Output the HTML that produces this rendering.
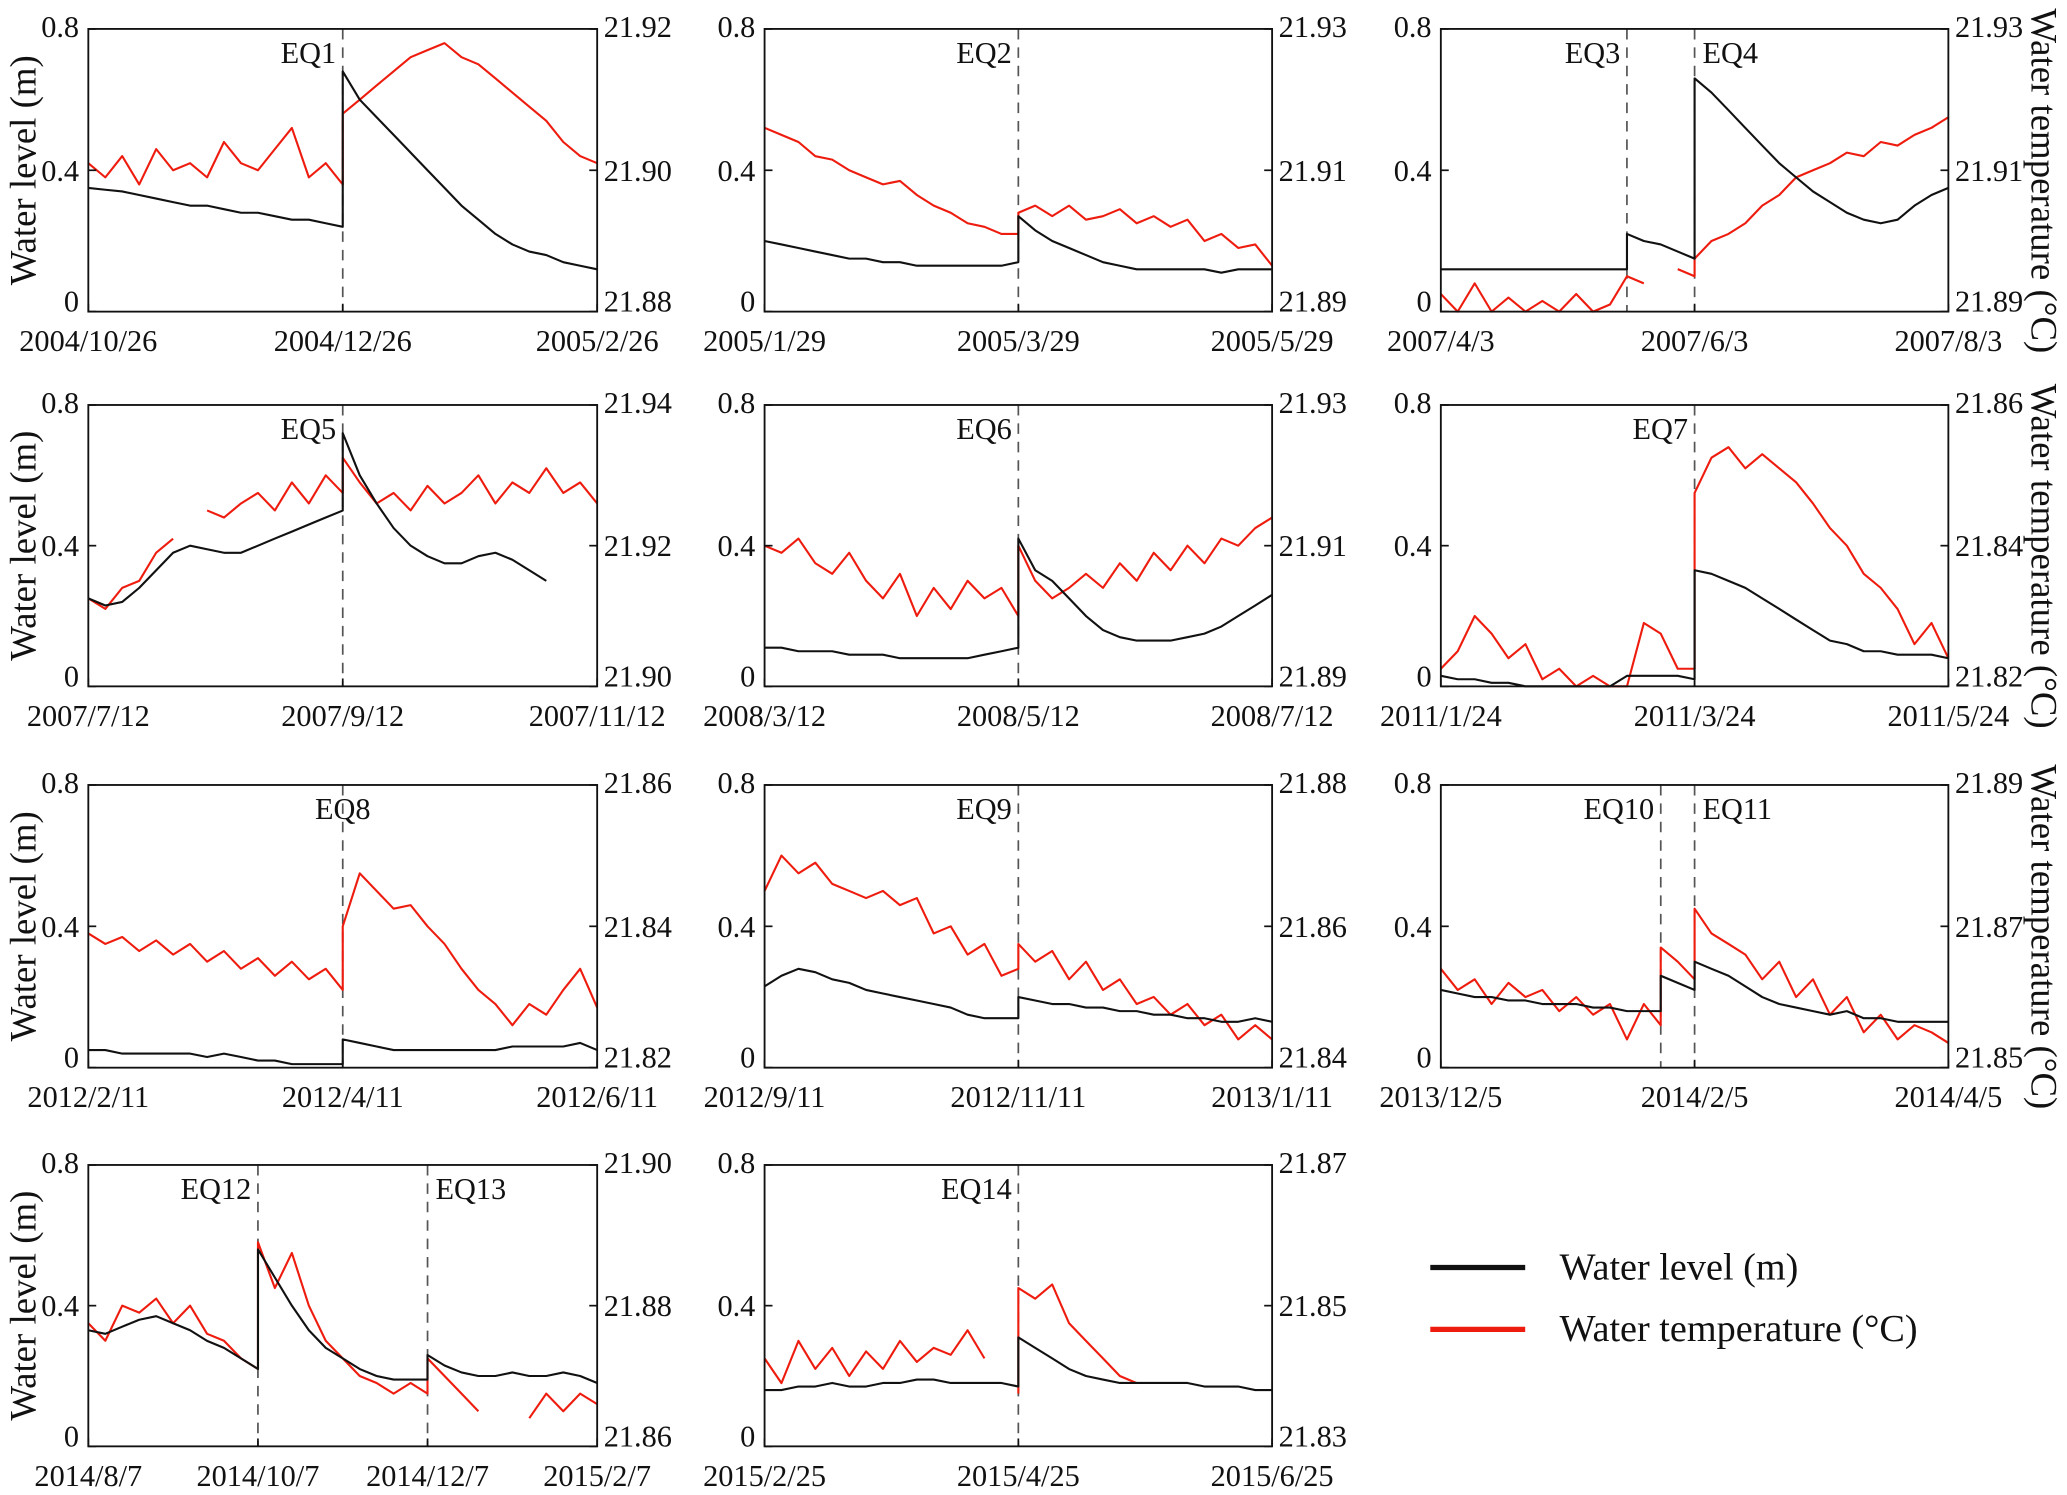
<!DOCTYPE html>
<html><head><meta charset="utf-8"><style>
html,body{margin:0;padding:0;background:#fff;}
svg{display:block;font-family:"Liberation Serif","DejaVu Serif",serif;}
</style></head><body>
<svg id="fig" width="2067" height="1495" viewBox="0 0 1568 1137" preserveAspectRatio="none" xmlns="http://www.w3.org/2000/svg"></svg>
<script>
// ---- data (x evenly spaced, 31 samples over 120 days; [a,b] = step at sample) ----
const xLabels = [["2004/10/26","2004/12/26","2005/2/26"],["2005/1/29","2005/3/29","2005/5/29"],["2007/4/3","2007/6/3","2007/8/3"],
["2007/7/12","2007/9/12","2007/11/12"],["2008/3/12","2008/5/12","2008/7/12"],["2011/1/24","2011/3/24","2011/5/24"],
["2012/2/11","2012/4/11","2012/6/11"],["2012/9/11","2012/11/11","2013/1/11"],["2013/12/5","2014/2/5","2014/4/5"],
["2014/8/7","2014/10/7","2014/12/7","2015/2/7"],["2015/2/25","2015/4/25","2015/6/25"]];
const tempRanges = [[21.88,21.92],[21.89,21.93],[21.89,21.93],[21.90,21.94],[21.89,21.93],[21.82,21.86],[21.82,21.86],[21.84,21.88],[21.85,21.89],[21.86,21.90],[21.83,21.87]];
const tempTicks = [["21.88","21.90","21.92"],["21.89","21.91","21.93"],["21.89","21.91","21.93"],["21.90","21.92","21.94"],["21.89","21.91","21.93"],["21.82","21.84","21.86"],["21.82","21.84","21.86"],["21.84","21.86","21.88"],["21.85","21.87","21.89"],["21.86","21.88","21.90"],["21.83","21.85","21.87"]];
const levelTicks = ["0","0.4","0.8"];
const eventNames = [["EQ1"],["EQ2"],["EQ3","EQ4"],["EQ5"],["EQ6"],["EQ7"],["EQ8"],["EQ9"],["EQ10","EQ11"],["EQ12","EQ13"],["EQ14"]];
const eventIdx = [[15],[15],[11,15],[15],[15],[15],[15],[15],[13,15],[10,20],[15]];
const level = [
[0.35,0.345,0.34,0.33,0.32,0.31,0.30,0.30,0.29,0.28,0.28,0.27,0.26,0.26,0.25,[0.24,0.68],0.60,0.55,0.50,0.45,0.40,0.35,0.30,0.26,0.22,0.19,0.17,0.16,0.14,0.13,0.12],
[0.20,0.19,0.18,0.17,0.16,0.15,0.15,0.14,0.14,0.13,0.13,0.13,0.13,0.13,0.13,[0.14,0.27],0.23,0.20,0.18,0.16,0.14,0.13,0.12,0.12,0.12,0.12,0.12,0.11,0.12,0.12,0.12],
[0.12,0.12,0.12,0.12,0.12,0.12,0.12,0.12,0.12,0.12,0.12,[0.12,0.22],0.20,0.19,0.17,[0.15,0.66],0.62,0.57,0.52,0.47,0.42,0.38,0.34,0.31,0.28,0.26,0.25,0.26,0.30,0.33,0.35],
[0.25,0.23,0.24,0.28,0.33,0.38,0.40,0.39,0.38,0.38,0.40,0.42,0.44,0.46,0.48,[0.50,0.72],0.60,0.52,0.45,0.40,0.37,0.35,0.35,0.37,0.38,0.36,0.33,0.30,null,null,null],
[0.11,0.11,0.10,0.10,0.10,0.09,0.09,0.09,0.08,0.08,0.08,0.08,0.08,0.09,0.10,[0.11,0.42],0.33,0.30,0.25,0.20,0.16,0.14,0.13,0.13,0.13,0.14,0.15,0.17,0.20,0.23,0.26],
[0.03,0.02,0.02,0.01,0.01,0.0,0.0,0.0,0.0,0.0,0.0,0.03,0.03,0.03,0.03,[0.02,0.33],0.32,0.30,0.28,0.25,0.22,0.19,0.16,0.13,0.12,0.10,0.10,0.09,0.09,0.09,0.08],
[0.05,0.05,0.04,0.04,0.04,0.04,0.04,0.03,0.04,0.03,0.02,0.02,0.01,0.01,0.01,[0.01,0.08],0.07,0.06,0.05,0.05,0.05,0.05,0.05,0.05,0.05,0.06,0.06,0.06,0.06,0.07,0.05],
[0.23,0.26,0.28,0.27,0.25,0.24,0.22,0.21,0.20,0.19,0.18,0.17,0.15,0.14,0.14,[0.14,0.20],0.19,0.18,0.18,0.17,0.17,0.16,0.16,0.15,0.15,0.14,0.14,0.13,0.13,0.14,0.13],
[0.22,0.21,0.20,0.20,0.19,0.19,0.18,0.18,0.18,0.17,0.17,0.16,0.16,[0.16,0.26],0.24,[0.22,0.30],0.28,0.26,0.23,0.20,0.18,0.17,0.16,0.15,0.16,0.14,0.14,0.13,0.13,0.13,0.13],
[0.33,0.32,0.34,0.36,0.37,0.35,0.33,0.30,0.28,0.25,[0.22,0.56],0.48,0.40,0.33,0.28,0.25,0.22,0.20,0.19,0.19,[0.19,0.26],0.23,0.21,0.20,0.20,0.21,0.20,0.20,0.21,0.20,0.18],
[0.16,0.16,0.17,0.17,0.18,0.17,0.17,0.18,0.18,0.19,0.19,0.18,0.18,0.18,0.18,[0.17,0.31],0.28,0.25,0.22,0.20,0.19,0.18,0.18,0.18,0.18,0.18,0.17,0.17,0.17,0.16,0.16]
];
const temp = [
[21.901,21.899,21.902,21.898,21.903,21.900,21.901,21.899,21.904,21.901,21.900,21.903,21.906,21.899,21.901,[21.898,21.908],21.910,21.912,21.914,21.916,21.917,21.918,21.916,21.915,21.913,21.911,21.909,21.907,21.904,21.902,21.901],
[21.916,21.915,21.914,21.912,21.9115,21.910,21.909,21.908,21.9085,21.9065,21.905,21.904,21.9025,21.902,21.901,[21.901,21.904],21.905,21.9035,21.905,21.903,21.9035,21.9045,21.9025,21.9035,21.902,21.903,21.900,21.901,21.899,21.8995,21.8965],
[21.8925,21.89,21.894,21.89,21.892,21.889,21.8915,21.89,21.8925,21.89,21.891,21.895,21.894,null,21.896,[21.895,21.8975],21.90,21.901,21.9025,21.905,21.9065,21.909,21.91,21.911,21.9125,21.912,21.914,21.9135,21.915,21.916,21.9175],
[21.9125,21.911,21.914,21.915,21.919,21.921,null,21.925,21.924,21.926,21.9275,21.925,21.929,21.926,21.930,[21.9275,21.9325],21.929,21.926,21.9275,21.925,21.9285,21.926,21.9275,21.930,21.926,21.929,21.9275,21.931,21.9275,21.929,21.926],
[21.910,21.909,21.911,21.9075,21.906,21.909,21.905,21.9025,21.906,21.900,21.904,21.901,21.905,21.9025,21.904,[21.900,21.910],21.905,21.9025,21.904,21.906,21.904,21.9075,21.905,21.909,21.9065,21.910,21.9075,21.911,21.910,21.9125,21.914],
[21.8225,21.825,21.830,21.8275,21.824,21.826,21.821,21.8225,21.82,21.8215,21.82,21.82,21.829,21.8275,21.8225,[21.8225,21.8475],21.8525,21.854,21.851,21.853,21.851,21.849,21.846,21.8425,21.840,21.836,21.834,21.831,21.826,21.829,21.824],
[21.839,21.8375,21.8385,21.8365,21.838,21.836,21.8375,21.835,21.8365,21.834,21.8355,21.833,21.835,21.8325,21.834,[21.831,21.840],21.8475,21.845,21.8425,21.843,21.840,21.8375,21.834,21.831,21.829,21.826,21.829,21.8275,21.831,21.834,21.8285],
[21.865,21.870,21.8675,21.869,21.866,21.865,21.864,21.865,21.863,21.864,21.859,21.860,21.856,21.8575,21.853,[21.854,21.8575],21.855,21.8565,21.8525,21.855,21.851,21.8525,21.849,21.850,21.8475,21.849,21.846,21.8475,21.844,21.846,21.844],
[21.864,21.861,21.8625,21.859,21.862,21.860,21.861,21.858,21.860,21.8575,21.859,21.854,21.859,[21.856,21.867],21.865,[21.8625,21.8725],21.869,21.8675,21.866,21.8625,21.865,21.860,21.8625,21.8575,21.860,21.855,21.8575,21.854,21.856,21.855,21.8535],
[21.8775,21.875,21.880,21.879,21.881,21.8775,21.880,21.876,21.875,21.8725,[21.871,21.889],21.8825,21.8875,21.880,21.875,21.8725,21.870,21.869,21.8675,21.869,[21.8675,21.8725],21.870,21.8675,21.865,null,null,21.864,21.8675,21.865,21.8675,21.866],
[21.8425,21.839,21.845,21.841,21.844,21.840,21.8435,21.841,21.845,21.842,21.844,21.843,21.8465,21.8425,null,[21.8375,21.8525],21.851,21.853,21.8475,21.845,21.8425,21.840,21.839,null,null,null,null,null,null,null,null]
];
// ---- layout ----
const NS="http://www.w3.org/2000/svg";
const svg=document.getElementById('fig');
const colsX=[[67,453],[580,965],[1093,1478]];
const rowsY=[[22,237],[308,522],[597,812],[886,1100]];
const evAnchor=[["end"],["end"],["end","start"],["end"],["end"],["end"],["middle"],["end"],["end","start"],["end","start"],["end"]];
function mk(tag,attrs,parent){const e=document.createElementNS(NS,tag);for(const k in attrs)e.setAttribute(k,attrs[k]);(parent||svg).appendChild(e);return e;}
function txt(s,attrs,parent){const e=mk('text',attrs,parent);e.textContent=s;return e;}
function pathFrom(vals,xf,yf){
  let d="",pen=false;const n=vals.length;
  vals.forEach((v,i)=>{
    if(v===null){pen=false;return;}
    const x=xf(i);const arr=Array.isArray(v)?v:[v];
    arr.forEach(a=>{const y=yf(a);d+=(pen?"L":"M")+x.toFixed(1)+" "+y.toFixed(1)+" ";pen=true;});
  });return d;}
for(let p=0;p<11;p++){
  const r=Math.floor(p/3),c=p%3;
  const [x0,x1]=colsX[c],[y0,y1]=rowsY[r];
  const g=mk('g',{});
  
  
  const n=level[p].length;
  const xf=i=>x0+(x1-x0)*i/(n-1);
  const yL=v=>y1-(y1-y0)*Math.max(0,v)/0.8;
  const [t0,t1]=tempRanges[p];
  const yT=v=>y1-(y1-y0)*Math.min(1,Math.max(0,(v-t0)/(t1-t0)));
  // events
  eventIdx[p].forEach((ei,k)=>{
    const ex=xf(ei);
    const ln=mk('line',{x1:ex,x2:ex,y1:y0,y2:y1,stroke:'#555','stroke-width':1.3,'stroke-dasharray':'8,6'},g);
    
    
    const a=evAnchor[p][k];
    const tx=a==='end'?ex-5:(a==='start'?ex+6:ex);
    const t=txt(eventNames[p][k],{x:tx,y:y0+26,'font-size':23,'text-anchor':a,fill:'#111'},g);
    
    
  });
  const rp=mk('path',{d:pathFrom(temp[p],xf,yT),fill:'none',stroke:'#ee1c0e','stroke-width':1.6,'stroke-linejoin':'round'},g);
  
  
  const bp=mk('path',{d:pathFrom(level[p],xf,yL),fill:'none',stroke:'#111','stroke-width':1.6,'stroke-linejoin':'round'},g);
  
  
  const box=mk('rect',{x:x0,y:y0,width:x1-x0,height:y1-y0,fill:'none',stroke:'#111','stroke-width':1.4},g);
  
  
  levelTicks.forEach((s,k)=>{
    const y=y1-(y1-y0)*k/2;
    mk('line',{x1:x0,x2:x0+6,y1:y,y2:y,stroke:'#111','stroke-width':1.3},g);
    mk('line',{x1:x1,x2:x1-6,y1:y,y2:y,stroke:'#111','stroke-width':1.3},g);
    const t=txt(s,{x:x0-7,y:y+(k===0?0:k===2?6:8),'font-size':23,'text-anchor':'end',fill:'#111'},g);
    
    
    const t2=txt(tempTicks[p][k],{x:x1+5,y:y+(k===0?0:k===2?6:8),'font-size':23,'text-anchor':'start',fill:'#111'},g);
    
    
  });
  const labs=xLabels[p];
  labs.forEach((s,k)=>{
    const x=x0+(x1-x0)*k/(labs.length-1);
    mk('line',{x1:x,x2:x,y1:y1,y2:y1-6,stroke:'#111','stroke-width':1.3},g);
    const t=txt(s,{x:x,y:y1+30,'font-size':23,'text-anchor':'middle',fill:'#111'},g);
    
    
  });
}
// axis titles
rowsY.forEach((ry,r)=>{
  const cy=(ry[0]+ry[1])/2;
  const t=txt('Water level (m)',{x:0,y:0,'font-size':28,'text-anchor':'middle',fill:'#111',transform:`translate(27 ${cy}) rotate(-90)`});
  
  
  if(r<3){
    const t2=txt('Water temperature (°C)',{x:0,y:0,'font-size':28,'text-anchor':'middle',fill:'#111',transform:`translate(1541 ${cy+8}) rotate(90)`});
    
    
  }
});
// legend
const lg=mk('g',{});


mk('line',{x1:1085,x2:1157,y1:964,y2:964,stroke:'#111','stroke-width':4},lg);
const l1=txt('Water level (m)',{x:1183,y:973,'font-size':29,fill:'#111'},lg);


mk('line',{x1:1085,x2:1157,y1:1011,y2:1011,stroke:'#ee1c0e','stroke-width':4},lg);
const l2=txt('Water temperature (°C)',{x:1183,y:1020,'font-size':29,fill:'#111'},lg);


</script>
</body></html>
